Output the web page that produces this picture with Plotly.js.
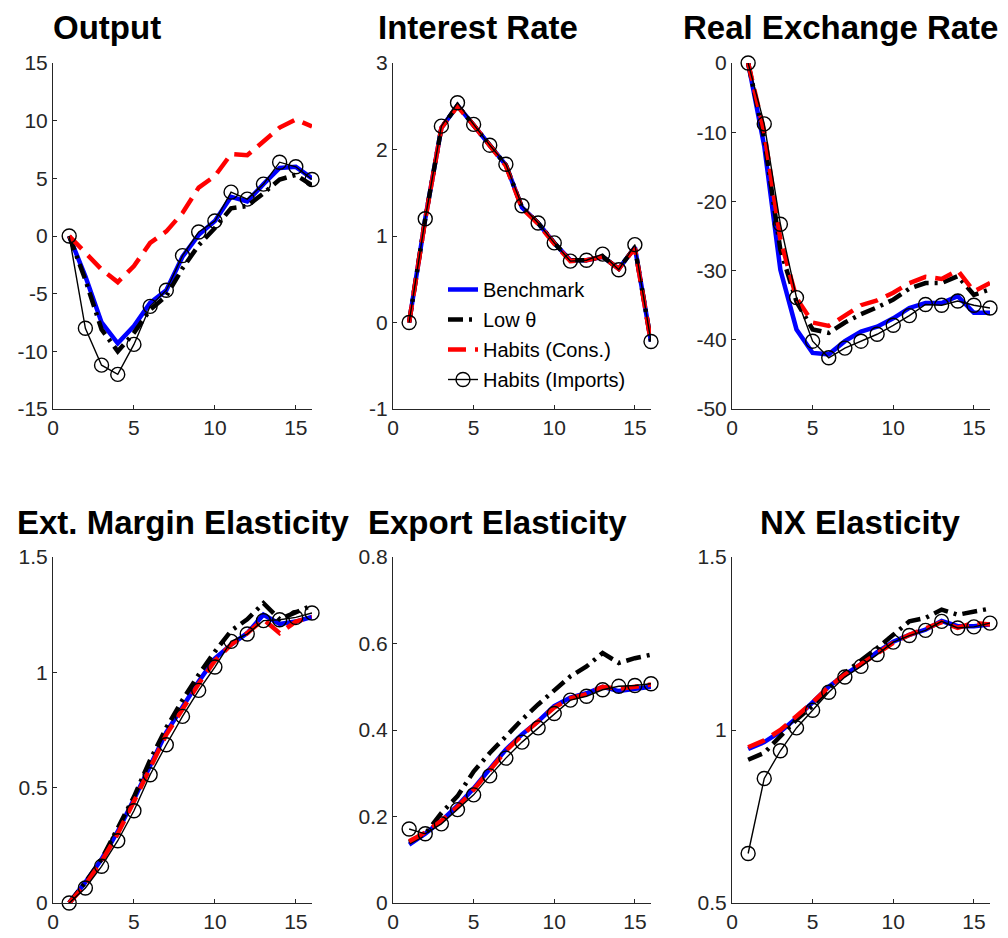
<!DOCTYPE html>
<html>
<head>
<meta charset="utf-8">
<script src="https://cdn.plot.ly/plotly-3.0.1.min.js"></script>
<style>html,body{margin:0;padding:0;background:#fff;}#chart{width:1008px;height:938px;}</style>
</head>
<body>
<div id="chart"></div>
<script>
// ---- data ----
const periods = [1,2,3,4,5,6,7,8,9,10,11,12,13,14,15,16];
const seriesNames = ["Benchmark", "Low θ", "Habits (Cons.)", "Habits (Imports)"];
const panelTitles = ["Output", "Interest Rate", "Real Exchange Rate", "Ext. Margin Elasticity", "Export Elasticity", "NX Elasticity"];

const outputBenchmark = [0, -3.5, -7.5, -9.3, -7.8, -5.8, -4.7, -1.8, 0.1, 1.3, 3.4, 3.0, 4.5, 5.9, 6.0, 5.0];
const outputLowTheta  = [0, -3.8, -8.1, -10.0, -8.4, -6.4, -5.2, -2.8, -0.8, 0.7, 2.4, 2.6, 3.7, 4.9, 5.3, 4.4];
const outputHabCons   = [0, -1.5, -2.9, -4.0, -2.6, -0.6, 0.4, 2.0, 4.2, 5.2, 7.1, 7.0, 8.2, 9.4, 10.1, 9.5];
const outputHabImp    = [0, -8.0, -11.2, -12.0, -9.4, -6.1, -4.7, -1.7, 0.35, 1.3, 3.8, 3.2, 4.5, 6.4, 6.0, 4.9];

const rateBenchmark = [0, 1.2, 2.25, 2.51, 2.28, 2.04, 1.82, 1.33, 1.15, 0.92, 0.72, 0.72, 0.76, 0.62, 0.87, -0.22];
const rateLowTheta  = [0, 1.2, 2.25, 2.51, 2.28, 2.04, 1.82, 1.33, 1.15, 0.92, 0.72, 0.72, 0.76, 0.62, 0.87, -0.22];
const rateHabCons   = [0, 1.19, 2.25, 2.5, 2.28, 2.04, 1.81, 1.32, 1.14, 0.91, 0.71, 0.72, 0.76, 0.62, 0.86, -0.23];
const rateHabImp    = [0, 1.2, 2.27, 2.54, 2.29, 2.05, 1.83, 1.35, 1.15, 0.92, 0.71, 0.72, 0.79, 0.61, 0.9, -0.22];

const rerBenchmark = [0, -12, -29.9, -38.5, -41.9, -42.1, -40.2, -38.8, -38.1, -36.9, -35.4, -34.7, -34.7, -33.7, -36.1, -36.1];
const rerLowTheta  = [0, -11, -27, -34.5, -38.5, -39, -37.5, -36.3, -35.3, -34.2, -32.6, -31.8, -31.8, -30.8, -33.5, -32.7];
const rerHabCons   = [0, -10, -25.5, -34, -37.5, -38, -36.5, -35, -34.3, -33.2, -31.8, -30.9, -31.2, -30, -33, -31.8];
const rerHabImp    = [0, -8.8, -23.3, -33.9, -40.2, -42.6, -41.2, -40.2, -39.2, -37.9, -36.5, -34.9, -35.0, -34.4, -35.0, -35.4];

const extBenchmark = [0, 0.09, 0.19, 0.31, 0.45, 0.60, 0.74, 0.85, 0.96, 1.06, 1.12, 1.17, 1.25, 1.21, 1.22, 1.24];
const extLowTheta  = [0, 0.09, 0.19, 0.32, 0.46, 0.62, 0.76, 0.88, 0.99, 1.09, 1.18, 1.23, 1.30, 1.23, 1.26, 1.29];
const extHabCons   = [0, 0.08, 0.18, 0.30, 0.44, 0.59, 0.73, 0.84, 0.95, 1.05, 1.12, 1.17, 1.23, 1.17, 1.22, 1.24];
const extHabImp    = [0, 0.065, 0.159, 0.27, 0.40, 0.556, 0.686, 0.809, 0.922, 1.023, 1.134, 1.166, 1.224, 1.228, 1.238, 1.257];

const expBenchmark = [0.135, 0.16, 0.19, 0.225, 0.265, 0.31, 0.355, 0.39, 0.42, 0.455, 0.475, 0.485, 0.50, 0.49, 0.495, 0.50];
const expLowTheta  = [0.14, 0.16, 0.208, 0.247, 0.304, 0.347, 0.385, 0.424, 0.459, 0.493, 0.524, 0.547, 0.578, 0.555, 0.566, 0.574];
const expHabCons   = [0.143, 0.163, 0.19, 0.222, 0.262, 0.308, 0.352, 0.388, 0.42, 0.452, 0.473, 0.483, 0.50, 0.495, 0.50, 0.505];
const expHabImp    = [0.171, 0.160, 0.183, 0.216, 0.250, 0.294, 0.335, 0.372, 0.405, 0.438, 0.469, 0.478, 0.493, 0.501, 0.503, 0.507];

const nxBenchmark = [0.945, 0.965, 0.995, 1.035, 1.08, 1.125, 1.16, 1.19, 1.225, 1.255, 1.275, 1.29, 1.315, 1.30, 1.30, 1.305];
const nxLowTheta  = [0.914, 0.934, 0.982, 1.03, 1.07, 1.12, 1.165, 1.2, 1.237, 1.275, 1.314, 1.324, 1.348, 1.333, 1.343, 1.351];
const nxHabCons   = [0.95, 0.97, 1.0, 1.04, 1.08, 1.125, 1.16, 1.19, 1.222, 1.252, 1.275, 1.292, 1.312, 1.295, 1.31, 1.305];
const nxHabImp    = [0.643, 0.860, 0.940, 1.006, 1.057, 1.109, 1.153, 1.184, 1.218, 1.254, 1.273, 1.288, 1.314, 1.295, 1.298, 1.309];

const yRanges = [[-15, 15], [-1, 3], [-50, 0], [0, 1.5], [0, 0.8], [0.5, 1.5]];
const yTicks  = [[-15,-10,-5,0,5,10,15], [-1,0,1,2,3], [-50,-40,-30,-20,-10,0], [0,0.5,1,1.5], [0,0.2,0.4,0.6,0.8], [0.5,1,1.5]];
const xTicks  = [0, 5, 10, 15];

// ---- build ----
const panels = [
  [outputBenchmark, outputLowTheta, outputHabCons, outputHabImp],
  [rateBenchmark, rateLowTheta, rateHabCons, rateHabImp],
  [rerBenchmark, rerLowTheta, rerHabCons, rerHabImp],
  [extBenchmark, extLowTheta, extHabCons, extHabImp],
  [expBenchmark, expLowTheta, expHabCons, expHabImp],
  [nxBenchmark, nxLowTheta, nxHabCons, nxHabImp]
];

const styles = [
  {mode: 'lines', line: {color: '#0000ff', width: 4.5, dash: 'solid'}},
  {mode: 'lines', line: {color: '#000000', width: 4.5, dash: '15px,6px,3px,6px'}},
  {mode: 'lines', line: {color: '#ff0000', width: 4.5, dash: '18px,9px'}},
  {mode: 'lines+markers', line: {color: '#000000', width: 1.4}, marker: {symbol: 'circle-open', size: 14, color: '#000000', line: {width: 1.4, color: '#000000'}}}
];

const traces = [];
panels.forEach((series, p) => {
  const ax = p === 0 ? '' : String(p + 1);
  series.forEach((vals, s) => {
    traces.push(Object.assign({
      type: 'scatter',
      x: periods,
      y: vals,
      name: seriesNames[s],
      xaxis: 'x' + ax,
      yaxis: 'y' + ax,
      showlegend: p === 1,
      legendgroup: 'g' + s,
      cliponaxis: false,
      hoverinfo: 'skip'
    }, JSON.parse(JSON.stringify(styles[s]))));
  });
});

const W = 1008, H = 938;
const colX = [[53, 312], [393, 651], [732, 990]];
const rowY = [[63, 409], [557, 903]];
const tickFont = {family: 'Liberation Sans, Arial, sans-serif', size: 21, color: '#262626'};

const layout = {
  width: W, height: H,
  margin: {l: 0, r: 0, t: 0, b: 0},
  paper_bgcolor: '#ffffff',
  plot_bgcolor: '#ffffff',
  showlegend: true,
  legend: {
    x: 443 / W, y: 1 - 270 / H, xanchor: 'left', yanchor: 'top',
    bgcolor: 'rgba(0,0,0,0)', borderwidth: 0,
    font: {family: 'Liberation Sans, Arial, sans-serif', size: 20, color: '#000000'},
    traceorder: 'grouped', tracegroupgap: 1
  },
  annotations: [],
  font: tickFont
};

const titleLeft = [53, 378, 683, 17, 368, 760];
panels.forEach((_, p) => {
  const ax = p === 0 ? '' : String(p + 1);
  const c = p % 3, r = Math.floor(p / 3);
  const common = {
    showline: true, linecolor: '#262626', linewidth: 1,
    ticks: 'inside', ticklen: 4, tickcolor: '#262626', tickwidth: 1,
    showgrid: false, zeroline: false, tickfont: tickFont, fixedrange: true
  };
  layout['xaxis' + ax] = Object.assign({}, common, {
    domain: [colX[c][0] / W, colX[c][1] / W],
    range: [0, 16], tickvals: xTicks, ticktext: xTicks.map(String),
    anchor: 'y' + ax
  });
  layout['yaxis' + ax] = Object.assign({}, common, {
    domain: [1 - rowY[r][1] / H, 1 - rowY[r][0] / H],
    range: yRanges[p], tickvals: yTicks[p], ticktext: yTicks[p].map(String),
    anchor: 'x' + ax
  });
  layout.annotations.push({
    text: '<b>' + panelTitles[p] + '</b>',
    xref: 'paper', yref: 'paper',
    x: (titleLeft[p] - 2) / W, xanchor: 'left',
    y: r === 0 ? 1 - 48 / H : 1 - 543 / H, yanchor: 'bottom',
    showarrow: false,
    font: {family: 'Liberation Sans, Arial, sans-serif', size: 33, color: '#000000'}
  });
});

Plotly.newPlot('chart', traces, layout, {staticPlot: true, displayModeBar: false});
</script>
</body>
</html>
